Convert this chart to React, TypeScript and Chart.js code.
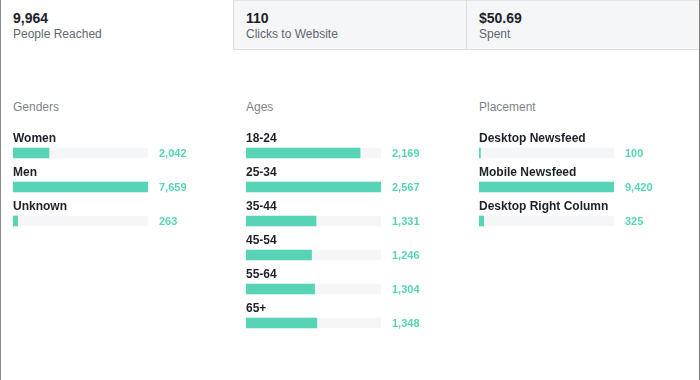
import React, { useEffect, useRef } from "react";
import { Chart, registerables } from "chart.js";

Chart.register(...registerables);

const tabValues = ["9,964", "110", "$50.69"];
const tabLabels = ["People Reached", "Clicks to Website", "Spent"];

const sectionTitles = ["Genders", "Ages", "Placement"];

const genderLabels = ["Women", "Men", "Unknown"];
const genderValues = [2042, 7659, 263];

const ageLabels = ["18-24", "25-34", "35-44", "45-54", "55-64", "65+"];
const ageValues = [2169, 2567, 1331, 1246, 1304, 1348];

const placementLabels = ["Desktop Newsfeed", "Mobile Newsfeed", "Desktop Right Column"];
const placementValues = [100, 9420, 325];

const FONT = "'Liberation Sans', Arial, Helvetica, sans-serif";
const TEAL = "#57d4b6";
const TRACK = "#f5f6f7";

const ROW = 34;
const PAD_TOP = 16;
const PAD_BOTTOM = 4;
const PAD_RIGHT = 85;
const CANVAS_W = 220;

const labelPlugin = {
  id: "rowLabels",
  afterDatasetsDraw(chart: any) {
    const ctx = chart.ctx;
    const meta = chart.getDatasetMeta(0);
    const labels = chart.data.labels as string[];
    const values = chart.data.datasets[0].data as number[];
    const area = chart.chartArea;
    ctx.save();
    ctx.textBaseline = "alphabetic";
    ctx.textAlign = "left";
    meta.data.forEach((bar: any, i: number) => {
      const top = bar.y - 5;
      ctx.fillStyle = "#1d2129";
      ctx.font = `bold 12px ${FONT}`;
      ctx.fillText(labels[i], area.left, top - 6);
      ctx.fillStyle = TEAL;
      ctx.font = `bold 11px ${FONT}`;
      ctx.fillText(values[i].toLocaleString("en-US"), area.right + 11, bar.y + 4);
    });
    ctx.restore();
  },
};

function BarList({ labels, values, left, top }: { labels: string[]; values: number[]; left: number; top: number }) {
  const ref = useRef<HTMLCanvasElement>(null);
  const height = PAD_TOP + ROW * labels.length + PAD_BOTTOM;
  useEffect(() => {
    if (!ref.current) return;
    const max = Math.max(...values);
    const chart = new Chart(ref.current, {
      type: "bar",
      data: {
        labels,
        datasets: [
          {
            data: values,
            backgroundColor: TEAL,
            borderWidth: 0,
            barThickness: 10,
            grouped: false,
            order: 0,
          } as any,
          {
            data: values.map(() => max),
            backgroundColor: TRACK,
            borderWidth: 0,
            barThickness: 10,
            grouped: false,
            order: 1,
          } as any,
        ],
      },
      options: {
        indexAxis: "y",
        responsive: false,
        animation: false,
        devicePixelRatio: 1,
        layout: { padding: { left: 0, right: PAD_RIGHT, top: PAD_TOP, bottom: PAD_BOTTOM } },
        plugins: { legend: { display: false }, tooltip: { enabled: false } },
        scales: {
          x: { display: false, min: 0, max },
          y: { display: false },
        },
      },
      plugins: [labelPlugin],
    });
    return () => chart.destroy();
  }, []);
  return (
    <canvas
      ref={ref}
      width={CANVAS_W}
      height={height}
      style={{ position: "absolute", left, top, width: CANVAS_W, height, display: "block" }}
    />
  );
}

export default function App() {
  const colX = [13, 246, 479];
  const tabBase: React.CSSProperties = {
    position: "absolute",
    top: 0,
    height: 50,
    boxSizing: "border-box",
  };
  return (
    <div
      style={{
        position: "fixed",
        left: 0,
        top: 0,
        width: 700,
        height: 380,
        background: "#fff",
        overflow: "hidden",
        fontFamily: FONT,
      }}
    >
      <div style={{ ...tabBase, left: 0, width: 233, background: "#fff" }} />
      <div
        style={{
          ...tabBase,
          left: 233,
          width: 233,
          background: "#f5f6f7",
          borderLeft: "1px solid #dddfe2",
          borderTop: "1px solid #e4e6e9",
          borderBottom: "1px solid #dddfe2",
        }}
      />
      <div
        style={{
          ...tabBase,
          left: 466,
          width: 233,
          background: "#f5f6f7",
          borderLeft: "1px solid #dddfe2",
          borderTop: "1px solid #e4e6e9",
          borderBottom: "1px solid #dddfe2",
        }}
      />
      {tabValues.map((v, i) => (
        <React.Fragment key={v}>
          <div
            style={{
              position: "absolute",
              left: colX[i],
              top: 10,
              fontSize: 14,
              lineHeight: "16px",
              fontWeight: "bold",
              color: "#1d2129",
              whiteSpace: "nowrap",
            }}
          >
            {v}
          </div>
          <div
            style={{
              position: "absolute",
              left: colX[i],
              top: 27,
              fontSize: 12,
              lineHeight: "14px",
              color: "#606770",
              whiteSpace: "nowrap",
            }}
          >
            {tabLabels[i]}
          </div>
        </React.Fragment>
      ))}
      {sectionTitles.map((t, i) => (
        <div
          key={t}
          style={{
            position: "absolute",
            left: colX[i],
            top: 100,
            fontSize: 12,
            lineHeight: "14px",
            color: "#7f838b",
            whiteSpace: "nowrap",
          }}
        >
          {t}
        </div>
      ))}
      <BarList labels={genderLabels} values={genderValues} left={colX[0]} top={120} />
      <BarList labels={ageLabels} values={ageValues} left={colX[1]} top={120} />
      <BarList labels={placementLabels} values={placementValues} left={colX[2]} top={120} />
      <div style={{ position: "absolute", left: 0, top: 0, width: 1, height: 380, background: "#8d8d8d" }} />
      <div style={{ position: "absolute", left: 699, top: 0, width: 1, height: 380, background: "#7a7a7a" }} />
    </div>
  );
}
